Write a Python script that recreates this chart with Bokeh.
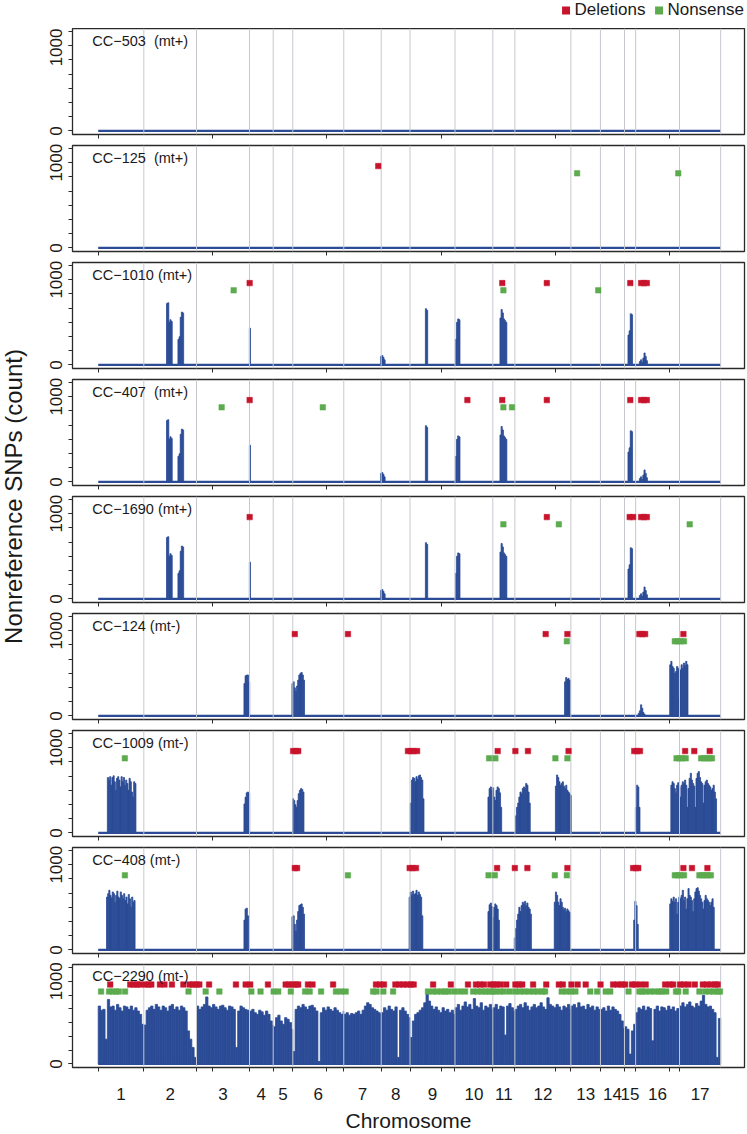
import math
from bokeh.plotting import figure
from bokeh.layouts import row, column
from bokeh.models import Range1d, FixedTicker, Legend, LegendItem, CustomJSTickFormatter
from bokeh.core.properties import value
from bokeh.embed import file_html
from bokeh.resources import INLINE

# ---------------- data ----------------
chrom_names = [str(i) for i in range(1, 18)]
chrom_len_mb = [7.98, 9.22, 9.27, 4.15, 3.43, 8.92, 6.55, 5.04, 7.87, 6.62,
                3.86, 9.80, 5.17, 4.21, 1.95, 7.68, 7.20]
position_ticks_mb = [0, 20, 40, 60, 80, 100]
count_ticks = [0, 1000]

strain_labels = ["CC\u2212503 \u00a0(mt+)", "CC\u2212125 \u00a0(mt+)", "CC\u22121010 (mt+)",
                 "CC\u2212407 \u00a0(mt+)", "CC\u22121690 (mt+)", "CC\u2212124 (mt-)",
                 "CC\u22121009 (mt-)", "CC\u2212408 (mt-)", "CC\u22122290 (mt-)"]
legend_labels = ["Deletions", "Nonsense"]

BIN_SPARSE = 0.2   # Mb per SNP-count window (introgressed blocks)
BIN_2290 = 0.4     # Mb per SNP-count window (CC-2290)

# SNP count blocks: start (Mb, genome coordinate) and counts per window
cc503_starts, cc503_vals = [], []
cc125_starts, cc125_vals = [], []
# CC-1010, CC-407 and CC-1690 share the same profile
mtplus_starts = [11.95, 13.95, 26.45, 49.4, 57.25, 62.5, 70.3, 92.7, 94.7]
mtplus_vals = [
    [720, 730, 500, 530, 510],
    [300, 330, 560, 620, 610],
    [430],
    [100, 110, 90, 60],
    [660, 640],
    [300, 500, 540, 530],
    [550, 650, 610, 540, 520, 500],
    [350, 400, 600, 590],
    [40, 60, 30, 80, 140, 100, 50],
]
cc124_starts = [25.5, 33.9, 81.6, 94.5, 100.0]
cc124_vals = [
    [380, 470, 480, 480, 400],
    [380, 400, 330, 290, 350, 420, 480, 500, 510, 480, 420],
    [400, 450, 430, 440, 420],
    [30, 60, 130, 90, 40, 20],
    [600, 640, 580, 560, 500, 520, 580, 560, 200, 540, 600, 560, 620, 590, 640, 600],
]
cc1009_starts = [1.6, 25.5, 34.0, 54.6, 68.2, 73.0, 80.0, 94.0, 100.2]
cc1009_vals = [
    [650, 620, 660, 560, 650, 670, 600, 500, 640, 660, 620, 540, 660, 600, 650, 560,
     620, 580, 500, 640, 600, 480, 420, 600, 580],
    [340, 420, 470, 480, 470],
    [400, 380, 330, 300, 380, 460, 500, 520, 510, 480],
    [350, 620, 650, 640, 600, 660, 630, 670, 680, 650, 620, 400],
    [420, 520, 540, 500, 530, 420, 380, 500, 540, 520, 470, 300],
    [200, 300, 350, 420, 480, 460, 520, 540, 520, 580, 560, 480, 350],
    [550, 680, 650, 600, 560, 580, 600, 550, 520, 560, 500, 480, 460, 440],
    [300, 560, 540, 300],
    [560, 600, 580, 520, 470, 560, 590, 540, 420, 560, 600, 580, 620, 560, 300, 520,
     640, 700, 620, 580, 550, 300, 640, 700, 720, 650, 600, 580, 350, 560, 600, 620,
     580, 560, 540, 500, 520, 560, 480, 400],
]
cc408_starts = [1.45, 25.5, 33.9, 54.4, 68.2, 72.8, 79.8, 93.7, 100.0]
cc408_vals = [
    [620, 660, 700, 640, 610, 680, 660, 560, 640, 690, 620, 600, 680, 640, 600, 660,
     580, 620, 540, 650, 600, 500, 620, 560, 580],
    [350, 480, 490, 400],
    [390, 400, 300, 220, 350, 450, 520, 530, 540, 500, 420],
    [620, 680, 640, 690, 650, 660, 700, 640, 680, 650, 620, 400],
    [450, 530, 550, 510, 380, 500, 540, 520, 480, 350],
    [140, 250, 350, 420, 500, 450, 520, 560, 540, 570, 520, 550, 500, 480, 420],
    [560, 680, 640, 560, 520, 600, 560, 500, 470, 490, 450, 480, 460, 440],
    [350, 570, 520, 300],
    [540, 600, 570, 620, 560, 600, 420, 560, 620, 600, 640, 700, 580, 620, 480, 600,
     720, 640, 620, 580, 450, 600, 680, 720, 730, 690, 640, 600, 560, 480, 580, 640,
     600, 580, 560, 520, 560, 600, 500],
]
# CC-2290: counts per 0.4 Mb window, chromosome by chromosome
cc2290_chr1 = [700, 650, 660, 300, 780, 690, 700, 650, 720, 680, 640, 700, 690, 660, 700, 650, 680, 640, 600, 480]
cc2290_chr2 = [470, 650, 680, 700, 660, 720, 690, 650, 700, 680, 640, 700, 720, 660, 690, 650, 700, 680, 640, 400, 300, 200, 80]
cc2290_chr3 = [700, 660, 690, 720, 810, 700, 680, 720, 690, 660, 700, 710, 680, 650, 700, 690, 660, 200, 640, 700, 680, 660, 650, 620]
cc2290_chr4 = [640, 660, 620, 600, 650, 630, 590, 640, 600, 520, 470]
cc2290_chr5 = [450, 560, 590, 520, 480, 560, 540, 500, 420]
cc2290_chr6 = [150, 660, 700, 680, 720, 690, 660, 700, 710, 680, 640, 30, 620, 680, 650, 690, 660, 640, 680, 650, 620, 600, 640]
cc2290_chr7 = [600, 620, 590, 610, 600, 620, 640, 600, 650, 700, 740, 720, 680, 660, 640, 620, 600]
cc2290_chr8 = [620, 680, 650, 700, 660, 640, 690, 80, 650, 680, 640, 600, 560]
cc2290_chr9 = [320, 520, 600, 620, 650, 680, 740, 850, 760, 700, 660, 690, 650, 620, 680, 640, 660, 620, 650, 600]
cc2290_chr10 = [680, 720, 650, 700, 750, 690, 720, 660, 790, 700, 680, 740, 650, 700, 680, 720, 660]
cc2290_chr11 = [680, 720, 660, 700, 690, 350, 700, 730, 680, 640]
cc2290_chr12 = [660, 700, 720, 680, 740, 700, 650, 690, 720, 680, 700, 740, 690, 660, 800, 720, 700, 680, 720, 690, 650, 700, 680, 720, 660]
cc2290_chr13 = [700, 720, 680, 740, 690, 700, 660, 720, 680, 700, 650, 690, 660]
cc2290_chr14 = [660, 680, 640, 700, 650, 690, 660, 640, 600, 520, 430]
cc2290_chr15 = [450, 420, 120, 400, 480]
cc2290_chr16 = [620, 680, 660, 700, 650, 690, 670, 280, 660, 700, 640, 690, 680, 650, 700, 660, 690, 640, 670, 650]
cc2290_chr17 = [700, 740, 690, 720, 750, 700, 680, 730, 700, 760, 830, 720, 690, 700, 660, 620, 80, 550]

# deletions / nonsense mutations (Mb, genome coordinate)
cc503_del, cc503_non = [], []
cc125_del = [49.0]
cc125_non = [83.8, 101.5]
cc1010_del = [26.5, 70.7, 78.5, 93.1, 95.0, 95.5, 96.0]
cc1010_non = [23.7, 70.9, 87.5]
cc407_del = [26.5, 64.6, 70.7, 78.5, 93.1, 95.0, 95.5, 96.0]
cc407_non = [21.6, 39.3, 70.9, 72.4]
cc1690_del = [26.5, 78.5, 93.0, 93.6, 95.0, 95.5, 96.0]
cc1690_non = [70.9, 80.6, 103.5]
cc124_del = [34.4, 43.7, 78.3, 82.1, 94.7, 95.2, 95.7, 102.4]
cc124_non = [82.0, 100.9, 101.4, 101.9, 102.5]
cc1009_del = [34.1, 34.6, 35.0, 54.2, 54.7, 55.2, 55.8, 69.9, 73.0, 75.2, 82.3, 93.8, 94.3,
              94.8, 102.7, 104.3, 107.0]
cc1009_non = [4.66, 68.4, 69.5, 80.0, 82.1, 101.2, 101.7, 102.2, 102.8, 105.5, 106.0, 106.5,
              107.0, 107.4]
cc408_del = [34.4, 34.8, 54.5, 55.0, 55.6, 69.8, 72.9, 75.1, 82.1, 93.6, 94.1, 94.5, 102.4,
             103.9, 106.6]
cc408_non = [4.67, 43.7, 68.3, 69.4, 79.9, 82.0, 100.9, 101.4, 101.9, 102.5, 105.2, 105.7,
             106.2, 106.7, 107.2]
cc2290_del = [2.1, 5.6, 6.2, 6.8, 7.3, 8.2, 8.8, 9.3, 10.8, 11.6, 12.9, 14.9, 16.0, 16.6, 17.2,
              17.7, 19.4, 24.1, 25.8, 26.6, 29.7, 32.8, 33.4, 34.0, 34.6, 35.0, 36.7, 37.5,
              41.1, 48.6, 49.3, 50.0, 52.0, 52.7, 53.4, 54.1, 54.7, 55.2, 58.6, 61.7, 64.7,
              66.1, 66.8, 67.5, 68.6, 69.2, 69.7, 70.4, 71.4, 73.0, 73.6, 74.2, 76.1, 78.4,
              80.6, 81.3, 82.8, 83.9, 85.3, 87.9, 90.1, 90.9, 91.6, 92.2, 93.4, 94.0, 94.9,
              95.8, 99.2, 100.0, 100.6, 101.8, 102.5, 103.3, 104.4, 105.8, 106.5, 107.3,
              108.0, 108.4]
cc2290_non = [0.5, 1.9, 2.5, 3.1, 3.6, 4.7, 15.8, 18.8, 21.2, 26.8, 28.4, 30.7, 31.5, 33.7,
              36.2, 37.0, 39.0, 41.6, 42.5, 43.3, 48.1, 48.7, 49.9, 51.6, 57.7, 58.6, 59.3,
              60.1, 60.7, 61.3, 62.3, 63.3, 64.2, 65.6, 66.4, 67.1, 67.8, 68.4, 69.0, 69.5,
              70.3, 71.0, 72.0, 73.0, 73.8, 74.6, 75.4, 76.2, 76.9, 77.7, 78.2, 81.1, 81.9,
              82.7, 83.5, 86.1, 87.3, 88.8, 89.6, 92.8, 94.7, 95.2, 95.8, 96.6, 97.4, 98.2,
              98.6, 99.4, 101.1, 101.5, 102.8, 105.2, 106.2, 107.0, 107.7, 108.4, 108.8]

# ---------------- styling ----------------
BLUE = "#2B4B96"
RED = "#C8132C"
GREEN = "#5CAB4F"
GRID = "#C5C9CF"
FRAME = "#2A2A2A"
TEXT = "#1A1A1A"
FONT = "Liberation Sans"
DEL_Y = 960
NON_Y = 875
X0, X1 = -4.5, 113.09
Y0, Y1 = -42.3, 1201.9
FIG_W = 715

chrom_start = [sum(chrom_len_mb[:i]) for i in range(len(chrom_len_mb))]
genome_end = sum(chrom_len_mb)
boundaries = chrom_start[1:] + [genome_end]
chrom_centers = [s + l / 2 for s, l in zip(chrom_start, chrom_len_mb)]


def blocks_to_quads(starts, vals, binw):
    left, right, top = [], [], []
    for s, vs in zip(starts, vals):
        for i, v in enumerate(vs):
            left.append(s + i * binw)
            right.append(s + (i + 1) * binw)
            top.append(v)
    return left, right, top


cc2290_all = [cc2290_chr1, cc2290_chr2, cc2290_chr3, cc2290_chr4, cc2290_chr5, cc2290_chr6,
              cc2290_chr7, cc2290_chr8, cc2290_chr9, cc2290_chr10, cc2290_chr11, cc2290_chr12,
              cc2290_chr13, cc2290_chr14, cc2290_chr15, cc2290_chr16, cc2290_chr17]


def cc2290_quads():
    left, right, top = [], [], []
    for s, l, vs in zip(chrom_start, chrom_len_mb, cc2290_all):
        for i, v in enumerate(vs):
            a = s + i * BIN_2290
            b = min(s + (i + 1) * BIN_2290, s + l)
            if b <= a:
                continue
            left.append(a)
            right.append(b)
            top.append(v)
    return left, right, top


def make_panel(label, quads, dels, nons, height, top, bottom, last=False):
    p = figure(width=FIG_W, height=height, x_range=Range1d(X0, X1), y_range=Range1d(Y0, Y1),
               output_backend="svg", toolbar_location=None,
               min_border_left=40, min_border_right=3, min_border_top=top,
               min_border_bottom=bottom)
    p.grid.visible = False
    p.outline_line_color = FRAME
    p.outline_line_width = 1.3
    p.background_fill_color = "white"
    p.border_fill_color = "white"
    left, right, tops = quads
    if left:
        p.quad(left=left, right=right, top=tops, bottom=0, fill_color=BLUE,
               line_color=BLUE, line_width=0.8)
    p.line([0, genome_end], [0, 0], line_color=BLUE, line_width=2.2)
    p.segment(x0=boundaries, y0=Y0, x1=boundaries, y1=Y1, line_color=GRID, line_width=1)
    if dels:
        p.scatter(x=dels, y=[DEL_Y] * len(dels), marker="square", size=5.5,
                  fill_color=RED, line_color=RED, line_width=0.5)
    if nons:
        p.scatter(x=nons, y=[NON_Y] * len(nons), marker="square", size=5.5,
                  fill_color=GREEN, line_color=GREEN, line_width=0.5)
    p.text(x=[-1.05], y=[1061], text=[label], text_font=value(FONT),
           text_font_size="14.5px", text_baseline="middle", text_align="left",
           text_color=TEXT)

    ya = p.yaxis[0]
    ya.ticker = FixedTicker(ticks=count_ticks,
                            minor_ticks=[1000 * k / 6 for k in range(8)])
    ya.major_tick_out = 4
    ya.major_tick_in = 0
    ya.minor_tick_out = 4
    ya.minor_tick_in = 0
    ya.axis_line_color = None
    ya.major_tick_line_color = FRAME
    ya.minor_tick_line_color = FRAME
    ya.major_label_orientation = "vertical"
    ya.major_label_text_font = FONT
    ya.major_label_text_font_size = "17px"
    ya.major_label_text_color = TEXT
    ya.major_label_standoff = 6

    xa = p.xaxis[0]
    xa.axis_line_color = None
    xa.major_tick_in = 0
    xa.minor_tick_in = 0
    xa.minor_tick_out = 4
    xa.minor_tick_line_color = FRAME
    xa.major_tick_line_color = FRAME
    if last:
        minor = sorted(set([round(b, 3) for b in boundaries[:-1]] + position_ticks_mb))
        xa.ticker = FixedTicker(ticks=chrom_centers, minor_ticks=minor)
        xa.major_tick_out = 0
        xa.formatter = CustomJSTickFormatter(
            args=dict(centers=chrom_centers, names=chrom_names),
            code="""
            let best = 0;
            for (let i = 0; i < centers.length; i++) {
                if (Math.abs(centers[i] - tick) < Math.abs(centers[best] - tick)) best = i;
            }
            return names[best];
            """)
        xa.major_label_text_font = FONT
        xa.major_label_text_font_size = "17px"
        xa.major_label_text_color = TEXT
        xa.major_label_standoff = 16
        xa.axis_label = "Chromosome"
        xa.axis_label_text_font = FONT
        xa.axis_label_text_font_size = "21px"
        xa.axis_label_text_font_style = "normal"
        xa.axis_label_text_color = TEXT
        xa.axis_label_standoff = 6
    else:
        xa.ticker = FixedTicker(ticks=[], minor_ticks=position_ticks_mb)
        xa.major_tick_out = 0
        xa.major_label_standoff = 0
        xa.major_label_text_font_size = "1px"
    return p


panel_data = [
    (blocks_to_quads(cc503_starts, cc503_vals, BIN_SPARSE), cc503_del, cc503_non),
    (blocks_to_quads(cc125_starts, cc125_vals, BIN_SPARSE), cc125_del, cc125_non),
    (blocks_to_quads(mtplus_starts, mtplus_vals, BIN_SPARSE), cc1010_del, cc1010_non),
    (blocks_to_quads(mtplus_starts, mtplus_vals, BIN_SPARSE), cc407_del, cc407_non),
    (blocks_to_quads(mtplus_starts, mtplus_vals, BIN_SPARSE), cc1690_del, cc1690_non),
    (blocks_to_quads(cc124_starts, cc124_vals, BIN_SPARSE), cc124_del, cc124_non),
    (blocks_to_quads(cc1009_starts, cc1009_vals, BIN_SPARSE), cc1009_del, cc1009_non),
    (blocks_to_quads(cc408_starts, cc408_vals, BIN_SPARSE), cc408_del, cc408_non),
    (cc2290_quads(), cc2290_del, cc2290_non),
]

panels = []
n = len(strain_labels)
for i, (label, (quads, dels, nons)) in enumerate(zip(strain_labels, panel_data)):
    if i == 0:
        h, t, b = 114, 0, 8
    elif i == n - 1:
        h, t, b = 173, 3, 64
    else:
        h, t, b = 117, 3, 8
    panels.append(make_panel(label, quads, dels, nons, h, t, b, last=(i == n - 1)))

# legend strip above the first panel
leg = figure(width=FIG_W, height=28, x_range=Range1d(0, 1), y_range=Range1d(0, 1),
             output_backend="svg", toolbar_location=None, min_border=0,
             x_axis_location=None, y_axis_location=None)
leg.grid.visible = False
leg.outline_line_color = None
r_del = leg.quad(left=[2], right=[3], top=[2], bottom=[3], fill_color=RED, line_color=None)
r_non = leg.quad(left=[2], right=[3], top=[2], bottom=[3], fill_color=GREEN, line_color=None)
legend = Legend(items=[LegendItem(label=legend_labels[0], renderers=[r_del]),
                       LegendItem(label=legend_labels[1], renderers=[r_non])],
                orientation="horizontal", location="top_right",
                border_line_color=None, background_fill_alpha=0,
                padding=4, margin=0, spacing=8, glyph_width=10, glyph_height=10,
                label_standoff=4, label_height=18,
                label_text_font=FONT, label_text_font_size="17px",
                label_text_color=TEXT)
leg.add_layout(legend)

# y-axis title spanning all panels
total_h = leg.height + sum(p.height for p in panels)
ylab = figure(width=32, height=total_h, x_range=Range1d(0, 32), y_range=Range1d(0, total_h),
              output_backend="svg", toolbar_location=None, min_border=0,
              x_axis_location=None, y_axis_location=None)
ylab.grid.visible = False
ylab.outline_line_color = None
ylab.text(x=[12.5], y=[total_h - 496], text=["Nonreference SNPs (count)"], angle=math.pi / 2,
          text_align="center", text_baseline="middle", text_font=value(FONT),
          text_font_size="24px", text_color=TEXT)

layout = row(ylab, column(leg, *panels, spacing=0), spacing=0)
open("out.html", "w").write(file_html(layout, INLINE))
